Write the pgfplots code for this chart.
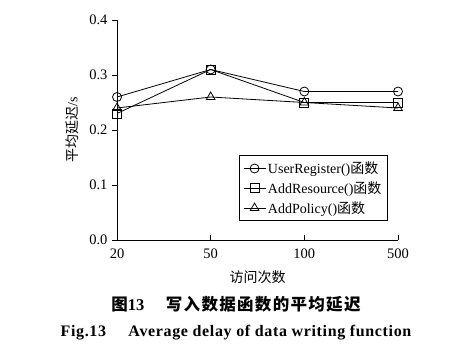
\documentclass[border=0pt]{standalone}
\usepackage{pgfplots}
\pgfplotsset{compat=1.18}
\usepackage{fontspec}
\setmainfont{Liberation Serif}
\newfontfamily\cjk{Noto Sans CJK SC}
\newfontfamily\cjkcap[LetterSpace=8]{Noto Sans CJK SC}
\begin{document}
\begin{tikzpicture}
\useasboundingbox (0pt,0pt) rectangle (454pt,353pt);
\begin{axis}[
  at={(117pt,113pt)}, anchor=south west,
  scale only axis, width=281pt, height=220pt,
  xmin=0, xmax=3, ymin=0, ymax=0.4,
  xtick={0,1,2,3}, xticklabels={20,50,100,500},
  ytick={0,0.1,0.2,0.3,0.4},
  axis x line*=bottom, axis y line*=left,
  axis line style={line width=0.8pt},
  tick align=inside,
  major tick length=5pt,
  tick style={black, line width=0.8pt},
  y tick style={xshift=-5pt},
  /pgf/number format/assume math mode=true,
  yticklabel style={/pgf/number format/.cd, fixed, fixed zerofill, precision=1, /tikz/.cd, xshift=-6pt},
  xticklabel style={yshift=-5pt},
  tick label style={font=\fontsize{14.5}{16}\selectfont},
  xlabel={\cjk 访问次数},
  ylabel={\cjk 平均延迟\rmfamily/s},
  label style={font=\fontsize{14}{16}\selectfont},
  xlabel style={yshift=-6pt},
  ylabel style={yshift=4pt},
  legend style={at={(0.964,0.086)}, anchor=south east, draw=black, line width=0.8pt,
    font=\fontsize{14}{16}\selectfont, row sep=2.5pt, inner xsep=4pt, inner ysep=4pt},
  legend cell align=left,
  legend image code/.code={\draw[mark repeat=2,mark phase=2] plot coordinates {(0pt,0pt) (11pt,0pt) (22pt,0pt)};},
  every axis plot/.append style={black, line width=0.8pt, mark size=4.5pt, mark options={fill=white, solid}},
]
\addplot[mark=o] coordinates {(0,0.26) (1,0.31) (2,0.27) (3,0.27)};
\addlegendentry{UserRegister()\cjk 函数}
\addplot[mark=square] coordinates {(0,0.23) (1,0.31) (2,0.25) (3,0.25)};
\addlegendentry{AddResource()\cjk 函数}
\addplot[mark=triangle, mark size=5pt] coordinates {(0,0.24) (1,0.26) (2,0.25) (3,0.24)};
\addlegendentry{AddPolicy()\cjk 函数}
\end{axis}
\node[font=\fontsize{16.5}{18}\selectfont\bfseries] at (236pt,49pt) {{\cjk 图}13\hspace{1.3em}{\cjkcap 写入数据函数的平均延迟}};
\node[font=\fontsize{16}{18}\selectfont\bfseries\addfontfeature{LetterSpace=4}] at (236pt,20pt) {Fig.13\hspace{1.4em}Average delay of data writing function};
\end{tikzpicture}
\end{document}
